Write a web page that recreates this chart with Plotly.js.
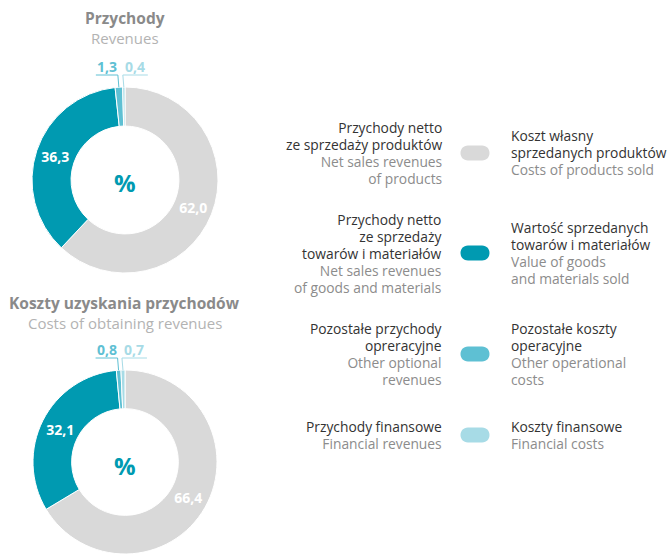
<!DOCTYPE html>
<html>
<head>
<meta charset="utf-8">
<script src="https://cdn.plot.ly/plotly-3.0.1.min.js"></script>
<style>html,body{margin:0;padding:0;background:#fff;overflow:hidden}</style>
</head>
<body>
<div id="wykres" style="width:667px;height:554px"></div>
<script>
// dane
const przychody = [62.0, 36.3, 1.3, 0.4];
const koszty = [66.4, 32.1, 0.8, 0.7];
const kolory = ['#d9d9d9', '#009ab1', '#5ec0d3', '#a7dbe6'];

const tytulyPl = ['Przychody', 'Koszty uzyskania przychodów'];
const tytulyEn = ['Revenues', 'Costs of obtaining revenues'];

const legendaPrzychodyPl = ['Przychody netto<br>ze sprzedaży produktów', 'Przychody netto<br>ze sprzedaży<br>towarów i materiałów', 'Pozostałe przychody<br>opreracyjne', 'Przychody finansowe'];
const legendaPrzychodyEn = ['Net sales revenues<br>of products', 'Net sales revenues<br>of goods and materials', 'Other optional<br>revenues', 'Financial revenues'];
const legendaKosztyPl = ['Koszt własny<br>sprzedanych produktów', 'Wartość sprzedanych<br>towarów i materiałów', 'Pozostałe koszty<br>operacyjne', 'Koszty finansowe'];
const legendaKosztyEn = ['Costs of products sold', 'Value of goods<br>and materials sold', 'Other operational<br>costs', 'Financial costs'];

const W = 667, H = 554;
const FONT = 'Open Sans, sans-serif';
const px = x => x / W;
const py = y => 1 - y / H;

function fmt(v) {
    return v.toFixed(1).replace('.', ',');
}

// polozenie wykresow (px)
const kola = [
    { dane: przychody, cx: 125, cy: 180, r: 93, ty: 152 },
    { dane: koszty, cx: 125, cy: 463, r: 93, ty: 150 }
];

const traces = [];
const annotations = [];
const shapes = [];

function tekst(x, y, t, kolor, size, anchor, bold) {
    annotations.push({
        xref: 'paper', yref: 'paper', x: px(x), y: py(y),
        xanchor: anchor, yanchor: 'middle', showarrow: false,
        text: bold ? '<b>' + t + '</b>' : t,
        font: { family: FONT, size: size, color: kolor }
    });
}

kola.forEach((k, idx) => {
    traces.push({
        type: 'pie',
        values: k.dane,
        text: k.dane.map((v, i) => i < 2 ? fmt(v) : ''),
        textinfo: 'text',
        textposition: 'inside',
        insidetextorientation: 'horizontal',
        textfont: { family: FONT, size: 14, color: '#ffffff', weight: 'bold' },
        sort: false,
        direction: 'clockwise',
        rotation: 0,
        hole: 0.58,
        marker: { colors: kolory, line: { color: '#ffffff', width: 1 } },
        hoverinfo: 'none',
        domain: {
            x: [px(k.cx - k.r), px(k.cx + k.r)],
            y: [Math.max(0, py(k.cy + k.r)), py(k.cy - k.r)]
        }
    });

    // tytul
    tekst(k.cx, k.cy - k.ty - 10, tytulyPl[idx], '#8a8a8a', 15.5, 'center', true);
    tekst(k.cx, k.cy - k.ty + 10, tytulyEn[idx], '#b3b3b3', 15, 'center', false);

    // znak %
    tekst(k.cx, k.cy + 2, '%', kolory[1], 24, 'center', true);

    // male wycinki - etykiety z liniami
    const suma = k.dane.reduce((a, b) => a + b, 0);
    let cum = 0;
    k.dane.forEach((v, i) => {
        const mid = (cum + v / 2) / suma;
        cum += v;
        if (i < 2) return;
        const th = mid * 2 * Math.PI;
        const ex = k.cx + k.r * Math.sin(th);
        const ey = k.cy - k.r * Math.cos(th);
        const uy = k.cy - k.r - 12;
        const lewo = i === 2;
        const x0 = lewo ? ex - 23 : ex + 24;
        const x1 = ex - 1;
        shapes.push({
            type: 'path', xref: 'paper', yref: 'paper',
            path: 'M' + px(x0) + ',' + py(uy) + ' L' + px(x1) + ',' + py(uy) + ' L' + px(ex) + ',' + py(ey),
            line: { color: kolory[i], width: 1 }
        });
        tekst((x0 + x1) / 2, uy - 9, fmt(v), kolory[i], 14, 'center', true);
    });
});

// legenda
const legendaY = [153, 253, 354, 435];
const pillX = 475, pillW = 29, pillH = 15;

function blok(x, yc, pl, en, anchor) {
    const wiersze = pl.split('<br>').map(t => '<span style="font-size:13.8px;color:#333333">' + t + '</span>')
        .concat(en.split('<br>').map(t => '<span style="font-size:13.8px;color:#8c8c8c">' + t + '</span>'));
    annotations.push({
        xref: 'paper', yref: 'paper', x: px(x), y: py(yc),
        xanchor: anchor, yanchor: 'middle', align: anchor, showarrow: false,
        text: wiersze.join('<br>'),
        font: { family: FONT, size: 13, color: '#333333' }
    });
}

legendaY.forEach((y, i) => {
    const r = pillH / 2;
    const xl = pillX - pillW / 2 + r, xr = pillX + pillW / 2 - r;
    const y0 = y - r, y1 = y + r, c = r * 1.33;
    shapes.push({
        type: 'path', xref: 'paper', yref: 'paper',
        path: 'M' + px(xl) + ',' + py(y0) + ' L' + px(xr) + ',' + py(y0) +
            ' C' + px(xr + c) + ',' + py(y0) + ' ' + px(xr + c) + ',' + py(y1) + ' ' + px(xr) + ',' + py(y1) +
            ' L' + px(xl) + ',' + py(y1) +
            ' C' + px(xl - c) + ',' + py(y1) + ' ' + px(xl - c) + ',' + py(y0) + ' ' + px(xl) + ',' + py(y0) + ' Z',
        fillcolor: kolory[i], line: { width: 0 }
    });
    blok(444, y, legendaPrzychodyPl[i], legendaPrzychodyEn[i], 'right');
    blok(509, y, legendaKosztyPl[i], legendaKosztyEn[i], 'left');
});

const layout = {
    width: W,
    height: H,
    margin: { l: 0, r: 0, t: 0, b: 0 },
    paper_bgcolor: '#ffffff',
    showlegend: false,
    annotations: annotations,
    shapes: shapes
};

Plotly.newPlot('wykres', traces, layout, { displayModeBar: false, staticPlot: true });
</script>
</body>
</html>
